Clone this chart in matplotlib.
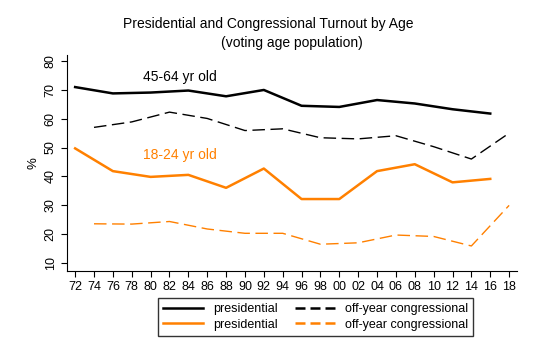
import matplotlib.pyplot as plt
from matplotlib.lines import Line2D

plt.rcParams['font.family'] = ['Liberation Sans', 'DejaVu Sans']

# Presidential years
pres_years = [1972, 1976, 1980, 1984, 1988, 1992, 1996, 2000, 2004, 2008, 2012, 2016]
pres_45_64 = [71.0, 68.8, 69.1, 69.8, 67.8, 70.0, 64.5, 64.1, 66.5, 65.3, 63.3, 61.8]
pres_18_24 = [49.7, 41.8, 39.8, 40.5, 36.0, 42.7, 32.1, 32.1, 41.8, 44.2, 37.9, 39.1]

# Off-year congressional
off_years = [1974, 1978, 1982, 1986, 1990, 1994, 1998, 2002, 2006, 2010, 2014, 2018]
off_45_64 = [57.0, 58.9, 62.3, 60.1, 55.9, 56.5, 53.4, 53.0, 54.1, 50.3, 46.0, 55.0]
off_18_24 = [23.5, 23.4, 24.3, 21.7, 20.2, 20.2, 16.4, 16.9, 19.6, 19.1, 15.8, 29.9]

tick_years = list(range(1972, 2019, 2))
tick_labels = [f'{y % 100:02d}' for y in tick_years]

orange = '#ff8000'

fig = plt.figure(figsize=(5.37, 3.58), dpi=100)
ax = fig.add_axes([0.125, 0.243, 0.838, 0.603])

ax.plot(pres_years, pres_45_64, color='black', lw=1.8)
ax.plot(off_years, off_45_64, color='black', lw=1.0, dashes=(9, 4))
ax.plot(pres_years, pres_18_24, color=orange, lw=1.8)
ax.plot(off_years, off_18_24, color=orange, lw=1.0, dashes=(9, 4))

ax.set_xlim(1971.15, 2018.85)
ax.set_ylim(7.1, 82.1)
ax.set_xticks(tick_years)
ax.set_xticklabels(tick_labels, fontsize=9)
ax.set_yticks(range(10, 81, 10))
ax.set_yticklabels([str(v) for v in range(10, 81, 10)], fontsize=9, rotation=90, va='center')
ax.tick_params(length=4, color='black')
ax.spines['top'].set_visible(False)
ax.spines['right'].set_visible(False)
ax.set_ylabel('%', fontsize=9.5)

ax.text(1983.1, 74.4, '45-64 yr old', fontsize=10, color='black', ha='center', va='center')
ax.text(1983.1, 47.4, '18-24 yr old', fontsize=10, color=orange, ha='center', va='center')

fig.text(0.499, 0.933, 'Presidential and Congressional Turnout by Age', fontsize=10, ha='center', va='center')
fig.text(0.544, 0.880, '(voting age population)', fontsize=10, ha='center', va='center')

handles = [
    Line2D([], [], color='black', lw=1.8),
    Line2D([], [], color=orange, lw=1.8),
    Line2D([], [], color='black', lw=1.8, dashes=(4, 2)),
    Line2D([], [], color=orange, lw=1.8, dashes=(4, 2)),
]
labels = ['presidential', 'presidential', 'off-year congressional', 'off-year congressional']
leg = fig.legend(handles, labels, ncol=2, loc='center', bbox_to_anchor=(0.588, 0.115),
                 fontsize=9, frameon=True, fancybox=False, edgecolor='black',
                 handlelength=3.2, columnspacing=1.4, labelspacing=0.3, borderpad=0.4)
leg.get_frame().set_linewidth(1.0)

plt.savefig('out.png', dpi=100)
